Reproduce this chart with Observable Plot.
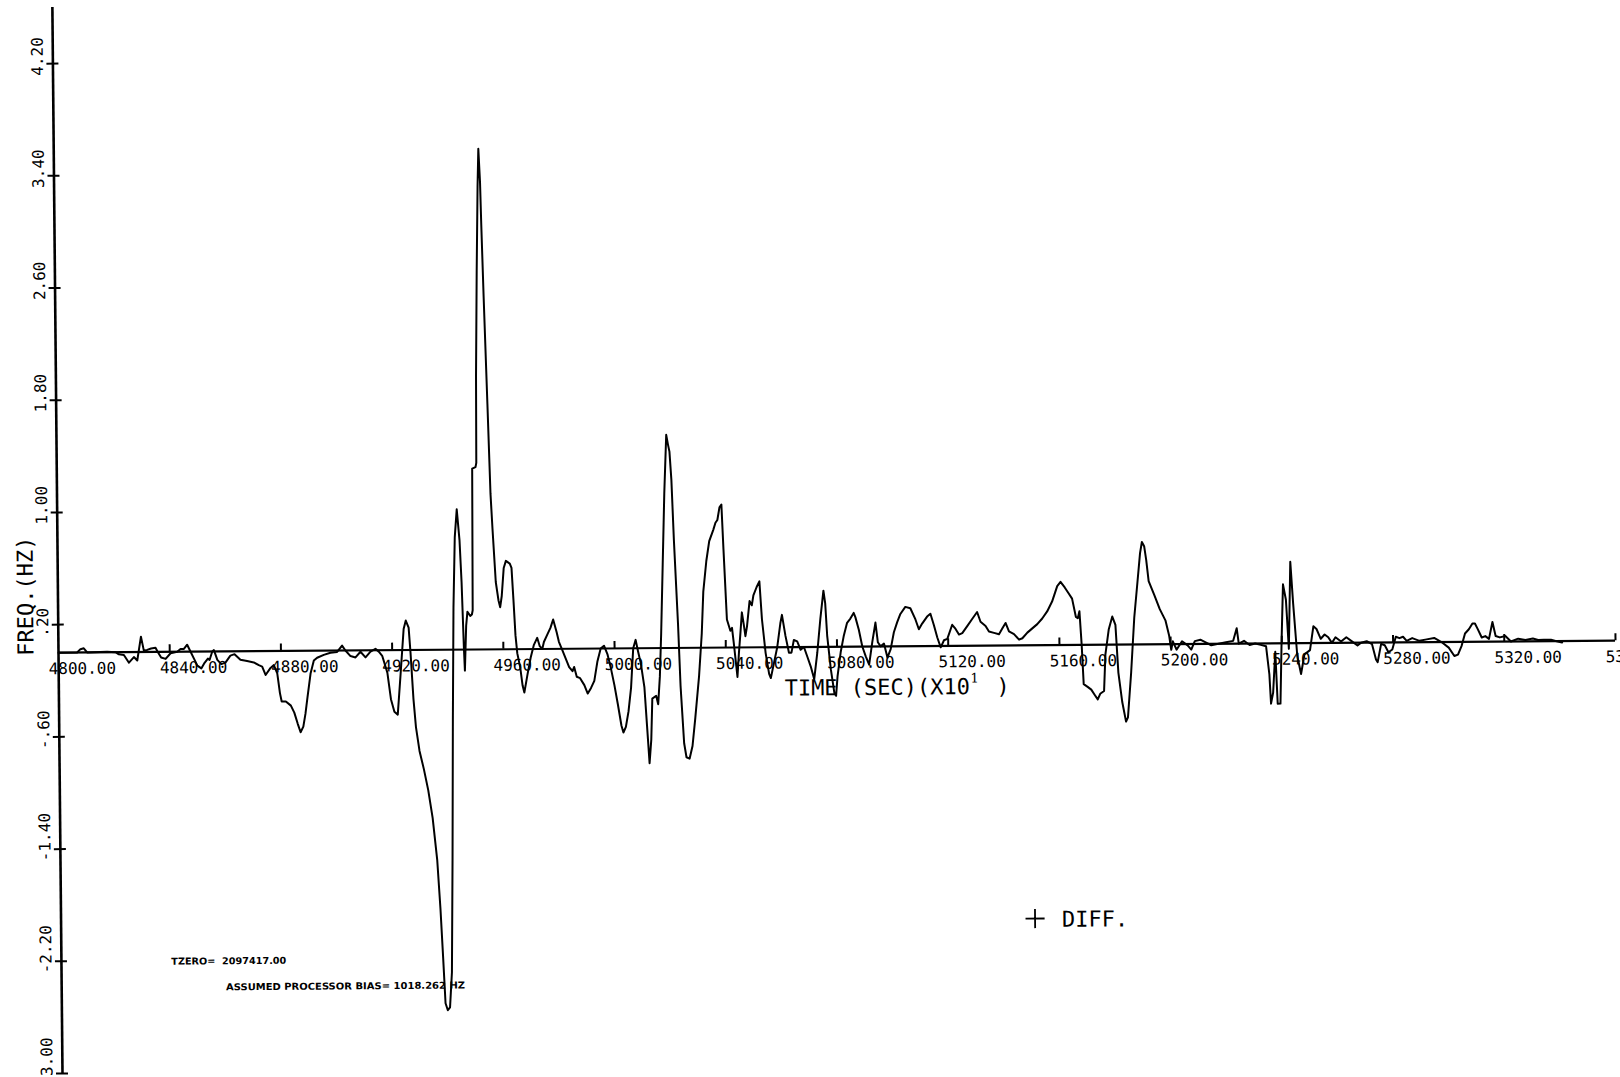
<!DOCTYPE html>
<html>
<head>
<meta charset="utf-8">
<script src="https://cdn.jsdelivr.net/npm/d3@7"></script>
<script src="https://cdn.jsdelivr.net/npm/@observablehq/plot@0.6"></script>
<style>
  html, body { margin: 0; padding: 0; background: #fff; overflow: hidden; }
  #chart svg { display: block; }
</style>
</head>
<body>
<div id="chart"></div>
<script>
// ---- data (time in s x10, frequency difference in Hz) ----
const time = [
4800.0,4806.7,4807.9,4809.1,4810.3,4817.5,4820.5,4821.7,4823.5,4825.3,4827.1,4828.3,4829.7,4830.7,4831.9,4833.3,4834.9,4835.7,4836.9,4838.5,
4840.3,4842.7,4843.9,4845.1,4846.3,4847.5,4848.7,4849.9,4851.3,4852.5,4853.7,4854.3,4855.3,4855.9,4857.1,4858.5,4860.0,4861.8,4863.3,4865.4,
4867.8,4870.2,4872.0,4873.2,4874.4,4876.2,4877.4,4878.6,4879.5,4880.1,4881.6,4883.4,4884.6,4885.8,4886.8,4887.8,4888.6,4889.4,4890.6,4891.8,
4893.0,4895.4,4897.8,4900.2,4902.0,4903.2,4905.0,4906.8,4908.6,4910.4,4912.2,4914.0,4915.2,4916.4,4918.2,4919.4,4920.6,4921.8,4923.0,4924.2,
4925.0,4926.0,4926.6,4927.5,4928.3,4929.5,4931.0,4932.5,4934.0,4935.5,4936.5,4937.3,4938.0,4938.8,4939.6,4940.4,4941.0,4941.6,4942.2,4942.9,
4943.7,4944.6,4945.2,4945.8,4946.1,4946.7,4947.2,4948.2,4948.8,4949.1,4949.4,4950.6,4950.9,4951.1,4951.7,4952.3,4952.7,4953.2,4953.5,4954.1,
4955.1,4955.9,4956.5,4957.5,4958.4,4959.0,4959.6,4960.4,4961.2,4962.6,4963.2,4963.8,4964.4,4965.0,4966.0,4966.8,4967.4,4968.6,4969.8,4971.0,
4972.2,4973.1,4974.0,4974.6,4975.8,4977.0,4978.0,4979.2,4980.0,4981.2,4982.4,4983.6,4984.8,4985.4,4986.3,4987.5,4989.0,4990.2,4991.4,4992.6,
4993.8,4995.0,4996.2,4997.4,4998.6,4999.8,5001.0,5002.2,5002.9,5003.8,5004.8,5005.8,5006.7,5007.6,5008.4,5009.4,5010.6,5011.4,5012.2,5012.9,
5013.4,5014.8,5015.5,5016.2,5016.8,5017.6,5018.4,5019.3,5019.9,5020.4,5021.0,5021.7,5022.9,5023.6,5024.7,5025.5,5026.6,5027.7,5028.8,5030.3,
5031.4,5032.1,5033.3,5034.4,5035.9,5036.7,5037.4,5038.2,5038.9,5039.5,5040.5,5041.7,5042.3,5042.9,5044.1,5044.7,5045.3,5045.9,5046.5,5047.1,
5047.7,5048.7,5049.5,5050.1,5051.3,5052.3,5053.1,5054.3,5055.5,5056.1,5057.3,5058.5,5059.7,5060.3,5061.5,5062.7,5063.6,5064.5,5065.7,5066.9,
5068.1,5069.3,5070.5,5071.7,5072.9,5074.1,5075.3,5075.9,5076.5,5077.7,5078.9,5079.5,5080.1,5081.3,5082.5,5083.7,5084.9,5086.1,5086.7,5087.9,
5089.1,5090.3,5091.5,5092.7,5093.9,5094.7,5095.7,5096.9,5098.1,5099.3,5100.5,5101.7,5102.9,5104.7,5106.5,5108.3,5109.5,5110.7,5112.5,5113.7,
5114.9,5116.1,5117.3,5118.5,5119.7,5121.5,5122.7,5123.9,5125.1,5126.9,5128.7,5130.5,5131.7,5133.5,5134.7,5136.5,5138.3,5139.5,5140.7,5141.9,
5143.7,5145.5,5146.7,5148.5,5150.3,5152.1,5153.9,5155.7,5157.5,5159.4,5160.6,5162.1,5163.4,5164.7,5166.0,5166.7,5167.3,5168.0,5168.6,5170.0,
5171.3,5172.6,5173.6,5174.5,5175.9,5176.5,5177.8,5179.1,5180.2,5181.1,5182.4,5183.7,5184.4,5185.7,5187.0,5188.3,5189.3,5190.0,5190.8,5191.5,
5192.3,5194.3,5196.2,5198.2,5199.5,5200.2,5200.8,5202.1,5204.1,5206.1,5207.4,5208.7,5210.7,5212.6,5214.6,5217.2,5219.9,5222.5,5223.8,5224.5,
5226.4,5228.4,5230.4,5232.4,5234.3,5235.4,5235.9,5236.7,5237.6,5238.3,5239.3,5239.9,5240.6,5241.6,5242.5,5243.3,5244.2,5245.5,5246.8,5248.1,
5250.1,5251.4,5252.5,5254.0,5255.4,5256.7,5258.0,5259.3,5261.3,5263.2,5265.2,5267.2,5268.5,5270.5,5272.4,5273.8,5274.4,5275.7,5277.0,5278.3,
5279.7,5281.0,5282.3,5283.6,5284.9,5286.9,5289.5,5292.1,5294.8,5297.4,5300.0,5302.0,5303.3,5304.6,5305.9,5307.3,5308.6,5309.5,5310.5,5311.9,
5313.2,5314.5,5315.8,5316.9,5318.4,5320.4,5322.4,5325.0,5327.6,5330.3,5332.2,5334.2,5336.8,5338.8,5340.8
];
const freqDiff = [
0.0,0.0,0.024,0.03,0.0,0.005,0.0,-0.015,-0.02,-0.075,-0.035,-0.06,0.11,0.01,0.015,0.025,0.03,0.0,-0.04,-0.05,
-0.01,0.0,0.02,0.02,0.05,0.0,-0.05,-0.1,-0.12,-0.08,-0.05,-0.06,0.0,0.01,-0.06,-0.09,-0.08,-0.03,-0.02,-0.06,
-0.07,-0.08,-0.1,-0.11,-0.17,-0.12,-0.1,-0.16,-0.30,-0.36,-0.36,-0.39,-0.44,-0.52,-0.58,-0.54,-0.45,-0.33,-0.16,-0.07,
-0.05,-0.03,-0.015,-0.01,0.035,0.0,-0.04,-0.05,-0.01,-0.05,-0.01,0.01,-0.01,-0.04,-0.16,-0.35,-0.44,-0.46,-0.16,0.15,
0.21,0.16,-0.02,-0.35,-0.55,-0.72,-0.85,-1.0,-1.2,-1.5,-1.85,-2.2,-2.52,-2.57,-2.55,-2.3,-1.5,-0.5,0.3,0.8,
1.0,0.78,0.48,0.02,-0.15,0.17,0.27,0.24,0.25,0.28,1.29,1.3,1.33,1.95,2.7,3.3,3.57,3.33,3.03,2.52,
1.75,1.11,0.86,0.48,0.35,0.3,0.38,0.58,0.63,0.61,0.58,0.35,0.1,-0.03,-0.13,-0.26,-0.31,-0.18,-0.06,0.03,
0.08,0.02,0.0,0.05,0.1,0.15,0.21,0.12,0.05,-0.01,-0.07,-0.13,-0.16,-0.13,-0.2,-0.21,-0.26,-0.32,-0.28,-0.23,
-0.09,0.0,0.02,-0.04,-0.14,-0.26,-0.4,-0.55,-0.6,-0.56,-0.45,-0.28,0.0,0.06,-0.02,-0.11,-0.28,-0.55,-0.82,-0.65,
-0.36,-0.34,-0.4,-0.2,0.1,0.6,1.1,1.52,1.45,1.4,1.2,0.77,0.17,-0.27,-0.68,-0.78,-0.79,-0.7,-0.5,-0.2,
0.1,0.4,0.62,0.76,0.84,0.89,0.91,1.0,1.02,0.7,0.2,0.12,0.14,0.03,-0.21,-0.04,0.1,0.25,0.17,0.08,
0.15,0.33,0.3,0.37,0.43,0.47,0.2,-0.04,-0.19,-0.22,-0.11,0.0,0.17,0.23,0.08,-0.04,-0.04,0.05,0.04,-0.02,
0.0,-0.07,-0.14,-0.23,-0.04,0.2,0.4,0.31,0.08,-0.16,-0.33,-0.35,-0.21,-0.04,0.08,0.17,0.2,0.24,0.21,0.12,
0.0,-0.07,-0.13,0.03,0.17,0.03,0.0,0.02,-0.08,-0.02,0.1,0.17,0.23,0.28,0.27,0.19,0.12,0.16,0.21,0.23,
0.15,0.06,-0.01,0.04,0.05,0.15,0.12,0.08,0.09,0.14,0.19,0.24,0.17,0.14,0.1,0.09,0.08,0.12,0.16,0.1,
0.08,0.04,0.05,0.09,0.12,0.15,0.19,0.24,0.31,0.42,0.45,0.41,0.37,0.33,0.2,0.19,0.24,0.0,-0.28,-0.3,
-0.32,-0.36,-0.39,-0.35,-0.33,-0.07,0.11,0.2,0.14,-0.2,-0.41,-0.55,-0.52,-0.2,0.19,0.45,0.65,0.73,0.7,0.6,
0.45,0.35,0.25,0.17,0.06,-0.04,0.02,-0.04,0.02,-0.01,-0.04,0.02,0.03,0.01,-0.01,0.0,0.01,0.02,0.11,0.0,
0.02,-0.01,0.0,-0.01,-0.02,-0.22,-0.43,-0.35,-0.06,-0.43,-0.43,0.01,0.42,0.31,-0.04,0.58,0.28,-0.09,-0.22,-0.08,
-0.05,0.12,0.1,0.03,0.06,0.04,0.0,0.04,0.01,0.04,0.01,-0.02,0.0,0.01,-0.01,-0.12,-0.14,-0.01,-0.02,-0.07,
-0.05,0.04,0.03,0.04,0.01,0.03,0.01,0.02,0.03,0.0,-0.04,-0.1,-0.09,-0.03,0.06,0.09,0.13,0.13,0.09,0.03,
0.04,0.02,0.14,0.04,0.03,0.04,0.0,0.02,0.01,0.02,0.01,0.01,0.01,0.0,-0.01
];
const xTicks = [4800, 4840, 4880, 4920, 4960, 5000, 5040, 5080, 5120, 5160, 5200, 5240, 5280, 5320, 5360];
const xTickLabels = ["4800.00","4840.00","4880.00","4920.00","4960.00","5000.00","5040.00","5080.00","5120.00","5160.00","5200.00","5240.00","5280.00","5320.00","5360.00"];
const yTicks = [-3.0, -2.2, -1.4, -0.6, 0.2, 1.0, 1.8, 2.6, 3.4, 4.2];
const yTickLabels = ["-3.00","-2.20","-1.40","-.60",".20","1.00","1.80","2.60","3.40","4.20"];
const xTitle = "TIME (SEC)(X10";
const xTitleExp = "1";
const xTitleEnd = ")";
const yTitle = "FREQ.(HZ)";
const legendLabel = "DIFF.";
const noteTzero = "TZERO=  2097417.00";
const noteBias = "ASSUMED PROCESSOR BIAS= 1018.262 HZ";

const table = time.map((t, i) => ({t, v: freqDiff[i]}));
const xT = xTicks.map((t, i) => ({t, label: xTickLabels[i]}));
const yT = yTicks.map((v, i) => ({v, label: yTickLabels[i]}));

const mono = "DejaVu Sans Mono, Liberation Mono, monospace";

const chart = Plot.plot({
  width: 1620,
  height: 1077,
  marginLeft: 58,
  marginRight: 5,
  marginTop: 7,
  marginBottom: 4,
  x: {domain: [4800, 5360], axis: null},
  y: {domain: [-3, 4.6], axis: null},
  style: {background: "#fff", fontFamily: mono, color: "#000"},
  marks: [
    // y axis line and crossing ticks
    Plot.ruleX([4800], {y1: -3, y2: 4.6, stroke: "#000", strokeWidth: 2.6}),
    Plot.ruleY(yT, {y: "v", x1: () => 4800, x2: () => 4800, insetLeft: -6, insetRight: -6, stroke: "#000", strokeWidth: 2}),
    Plot.text(yT, {x: () => 4800, y: "v", text: "label", rotate: -90, textAnchor: "start", lineAnchor: "bottom",
      dx: -10, dy: 12, fontSize: 16, fontFamily: mono, fill: "#000"}),
    // x axis along zero
    Plot.ruleY([0], {x1: 4800, x2: 5360, stroke: "#000", strokeWidth: 2.2}),
    Plot.ruleX(xT.slice(1), {x: "t", y1: () => 0, y2: () => 0.05, stroke: "#000", strokeWidth: 2}),
    Plot.text(xT, {x: "t", y: () => 0, text: "label", textAnchor: "start", lineAnchor: "top",
      dx: -10, dy: 10, fontSize: 16, fontFamily: mono, fill: "#000"}),
    // the series
    Plot.line(table, {x: "t", y: "v", stroke: "#000", strokeWidth: 2, strokeLinejoin: "round"}),
    // axis titles
    Plot.text([yTitle], {x: [4791.0], y: [-0.02], text: d => d, rotate: -90, textAnchor: "start", lineAnchor: "bottom",
      fontSize: 22, fontFamily: mono, fill: "#000"}),
    Plot.text([xTitle], {x: [5061.0], y: [-0.345], text: d => d, textAnchor: "start", lineAnchor: "bottom",
      fontSize: 22, fontFamily: mono, fill: "#000"}),
    Plot.text([xTitleExp], {x: [5127.9], y: [-0.262], text: d => d, textAnchor: "start", lineAnchor: "bottom",
      fontSize: 13, fontFamily: "DejaVu Serif, serif", fill: "#000"}),
    Plot.text([xTitleEnd], {x: [5137.2], y: [-0.345], text: d => d, textAnchor: "start", lineAnchor: "bottom",
      fontSize: 22, fontFamily: mono, fill: "#000"}),
    // legend
    Plot.dot([legendLabel], {x: [5150.3], y: [-1.949], symbol: "plus", r: 6.2, stroke: "#000", strokeWidth: 1.8}),
    Plot.text([legendLabel], {x: [5160.0], y: [-2.009], text: d => d, textAnchor: "start", lineAnchor: "bottom",
      fontSize: 22, fontFamily: mono, fill: "#000"}),
    // notes
    Plot.text([noteTzero], {x: [4839.5], y: [-2.230], text: d => d, textAnchor: "start", lineAnchor: "bottom",
      fontSize: 9.5, fontWeight: "bold", fontFamily: "DejaVu Sans Condensed, DejaVu Sans, sans-serif", fill: "#000"}),
    Plot.text([noteBias], {x: [4859.1], y: [-2.416], text: d => d, textAnchor: "start", lineAnchor: "bottom",
      fontSize: 9.5, fontWeight: "bold", fontFamily: "DejaVu Sans Condensed, DejaVu Sans, sans-serif", fill: "#000"})
  ]
});

// fit the small note lines to the widths seen in the plot
d3.select(chart).selectAll("text").each(function() {
  const s = this.textContent;
  if (s === noteTzero) { this.setAttribute("textLength", 115); this.setAttribute("lengthAdjust", "spacingAndGlyphs"); }
  if (s === noteBias) { this.setAttribute("textLength", 239); this.setAttribute("lengthAdjust", "spacingAndGlyphs"); }
});

// the scanned sheet is slightly skewed
chart.style.transformOrigin = "58px 652px";
chart.style.transform = "matrix(1, -0.0077, 0.0095, 1, 0, 0)";

document.getElementById("chart").appendChild(chart);
</script>
</body>
</html>
